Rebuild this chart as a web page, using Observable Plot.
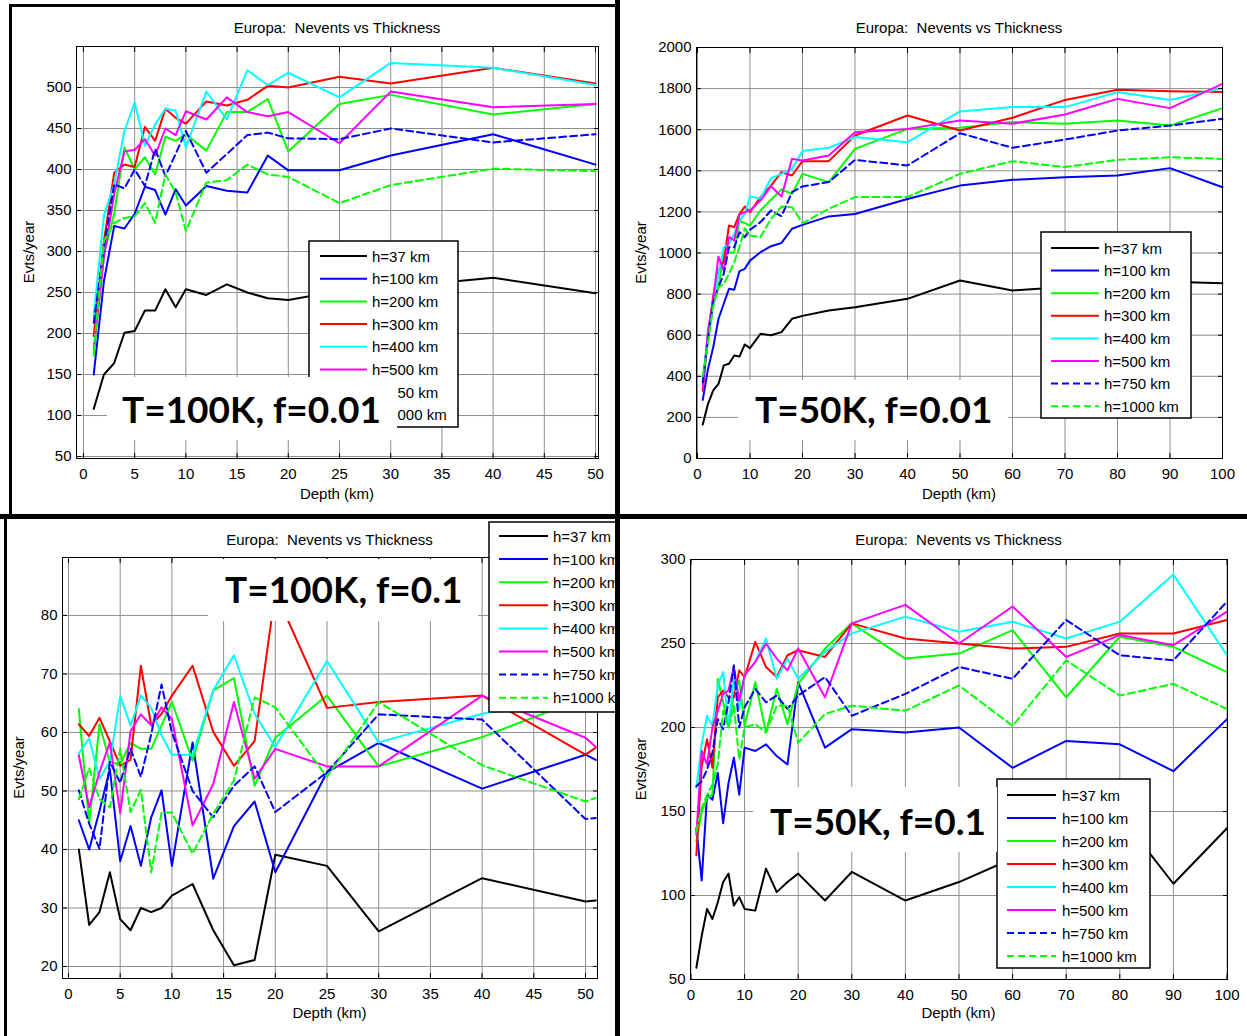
<!DOCTYPE html>
<html>
<head>
<meta charset="utf-8">
<script src="https://cdn.jsdelivr.net/npm/d3@7"></script>
<script src="https://cdn.jsdelivr.net/npm/@observablehq/plot@0.6"></script>
<style>
  body { margin: 0; background: #fff; }
  #page { position: relative; width: 1247px; height: 1036px; overflow: hidden; background: #fff; }
  .band { position: absolute; background: #000; }
</style>
</head>
<body>
<div id="page"></div>
<script>
// Europa: event rate vs ice thickness, four cases (temperature T, fraction f)
const seriesNames = ["h=37 km", "h=100 km", "h=200 km", "h=300 km", "h=400 km", "h=500 km", "h=750 km", "h=1000 km"];
const seriesColors = ["#000000", "#0000ff", "#00ff00", "#ff0000", "#00ffff", "#ff00ff", "#0000ff", "#00ff00"];
const seriesDash = [null, null, null, null, null, null, "7,4", "7,4"];

const depthTicks50 = [0, 5, 10, 15, 20, 25, 30, 35, 40, 45, 50];
const depthTicks100 = [0, 10, 20, 30, 40, 50, 60, 70, 80, 90, 100];
const evtsTicksA = [50, 100, 150, 200, 250, 300, 350, 400, 450, 500];
const evtsTicksB = [0, 200, 400, 600, 800, 1000, 1200, 1400, 1600, 1800, 2000];
const evtsTicksC = [20, 30, 40, 50, 60, 70, 80];
const evtsTicksD = [50, 100, 150, 200, 250, 300];

// T=100K, f=0.01
const depthA = [1, 2, 3, 4, 5, 6, 7, 8, 9, 10, 12, 14, 16, 18, 20, 25, 30, 40, 50];
const a37 = [108, 150, 164, 201, 203, 228, 228, 254, 232, 254, 247, 260, 250, 243, 241, 252, 256, 268, 249];
const a100 = [150, 264, 331, 328, 346, 379, 375, 345, 376, 356, 380, 374, 372, 417, 399, 399, 417, 443, 406];
const a200 = [173, 297, 346, 427, 400, 415, 394, 440, 435, 443, 423, 470, 470, 486, 422, 480, 491, 467, 480];
const a300 = [197, 313, 396, 406, 403, 452, 435, 474, 463, 456, 483, 478, 485, 502, 500, 513, 505, 524, 505];
const a400 = [222, 344, 382, 447, 482, 429, 455, 474, 472, 427, 495, 461, 521, 503, 518, 488, 530, 524, 503];
const a500 = [181, 293, 370, 422, 424, 437, 417, 450, 442, 471, 461, 488, 470, 465, 470, 432, 495, 476, 480];
const a750 = [213, 305, 382, 377, 400, 380, 425, 392, 419, 447, 396, 419, 442, 445, 438, 437, 450, 433, 443];
const a1000 = [177, 313, 335, 341, 343, 359, 335, 394, 372, 325, 384, 387, 406, 394, 391, 359, 381, 401, 398];

// T=50K, f=0.01
const depthB = [1, 2, 3, 4, 5, 6, 7, 8, 9, 10, 12, 14, 16, 18, 20, 25, 30, 40, 50, 60, 70, 80, 90, 100];
const b37 = [165, 266, 331, 363, 453, 461, 501, 496, 555, 537, 607, 600, 615, 680, 694, 720, 736, 777, 866, 818, 835, 850, 860, 853];
const b100 = [285, 436, 542, 680, 753, 826, 821, 912, 923, 963, 1004, 1033, 1049, 1118, 1137, 1178, 1190, 1263, 1328, 1356, 1369, 1377, 1413, 1320];
const b200 = [360, 590, 770, 834, 996, 1001, 1004, 1158, 1145, 1134, 1207, 1259, 1309, 1288, 1385, 1345, 1507, 1604, 1609, 1637, 1629, 1645, 1620, 1705];
const b300 = [330, 600, 790, 915, 960, 1134, 1126, 1190, 1226, 1199, 1272, 1328, 1393, 1377, 1447, 1447, 1572, 1669, 1596, 1658, 1745, 1794, 1787, 1783];
const b400 = [380, 610, 760, 899, 1028, 1045, 1093, 1158, 1190, 1275, 1264, 1364, 1385, 1410, 1496, 1512, 1564, 1539, 1689, 1710, 1710, 1783, 1745, 1802];
const b500 = [340, 620, 780, 983, 915, 1077, 1061, 1187, 1199, 1207, 1255, 1325, 1275, 1458, 1450, 1474, 1588, 1604, 1645, 1629, 1674, 1750, 1705, 1823];
const b750 = [370, 580, 760, 834, 899, 1028, 1028, 1101, 1077, 1113, 1150, 1207, 1179, 1296, 1324, 1345, 1453, 1426, 1583, 1512, 1552, 1596, 1620, 1653];
const b1000 = [400, 560, 740, 834, 850, 899, 955, 1030, 1120, 1085, 1077, 1166, 1226, 1223, 1145, 1215, 1272, 1272, 1385, 1447, 1418, 1453, 1466, 1458];

// T=100K, f=0.1
const depthC = [1, 2, 3, 4, 5, 6, 7, 8, 9, 10, 12, 14, 16, 18, 20, 25, 30, 40, 50, 51];
const c37 = [40, 27.1, 29.3, 36.1, 28.1, 26.2, 30, 29.3, 30, 32.1, 34.1, 26.2, 20.2, 21.1, 39.1, 37.2, 26, 35.1, 31.1, 31.3];
const c100 = [45, 40, 46.6, 53.7, 38, 44, 37.2, 45.5, 50.1, 37.2, 58.3, 35, 44, 48.2, 36.1, 53.2, 58.2, 50.4, 56.2, 55.3];
const c200 = [64, 44.4, 61.4, 54.9, 54.6, 58.2, 57.2, 57.2, 61.2, 65.2, 55.2, 67.2, 69.3, 50.9, 59.1, 66.3, 54.2, 59.2, 66, 66.5];
const c300 = [61.4, 59.4, 62.5, 58.5, 54.3, 55.3, 71.4, 61.2, 63.2, 66.3, 71.4, 60.1, 54.3, 58.5, 84, 64.2, 65.2, 66.3, 56.2, 57.4];
const c400 = [56.4, 59, 52.1, 55, 66.2, 61.2, 66.3, 64.2, 59.5, 56.2, 56.2, 67.2, 73.2, 63.2, 57.5, 72.2, 58.3, 63.2, 66, 66];
const c500 = [56.1, 47.2, 53.2, 58.3, 46.2, 60.2, 63.1, 61.2, 64.3, 62.3, 44.1, 51.2, 65.2, 52.1, 57.2, 54.2, 54.2, 66.3, 59.1, 57.5];
const c750 = [50.1, 44.4, 40.1, 55, 51.4, 57.2, 52.4, 59.7, 68.2, 60, 50, 45.5, 50.9, 54.2, 46.4, 53.2, 63.1, 62.2, 45.2, 45.4];
const c1000 = [48.6, 53.9, 48.6, 47.2, 57.2, 46.4, 50.2, 36.1, 46.3, 46.3, 39.3, 46.1, 51.8, 66, 64.3, 52.4, 65.2, 54.4, 48.2, 48.8];

// T=50K, f=0.1
const depthD = [1, 2, 3, 4, 5, 6, 7, 8, 9, 10, 12, 14, 16, 18, 20, 25, 30, 40, 50, 60, 70, 80, 90, 100];
const d37 = [57, 76, 92, 86, 96, 108, 113, 94, 99, 92, 91, 116, 102, 108, 113, 97, 114, 97, 108, 122, 135, 148, 107, 140];
const d100 = [140, 109, 160, 157, 173, 143, 167, 182, 160, 188, 186, 190, 183, 178, 227, 188, 199, 197, 200, 176, 192, 190, 174, 205];
const d200 = [132, 150, 158, 160, 229, 215, 200, 220, 228, 201, 227, 197, 223, 202, 226, 247, 262, 241, 244, 258, 218, 254, 248, 233];
const d300 = [124, 177, 193, 176, 218, 222, 218, 218, 234, 230, 251, 236, 230, 243, 246, 242, 262, 253, 250, 247, 248, 256, 256, 264];
const d400 = [164, 190, 207, 201, 225, 233, 201, 229, 211, 231, 239, 253, 229, 241, 229, 245, 256, 266, 257, 263, 253, 263, 291, 243];
const d500 = [136, 186, 178, 200, 210, 220, 222, 236, 216, 231, 239, 250, 241, 234, 247, 218, 262, 273, 250, 272, 242, 255, 249, 269];
const d750 = [165, 168, 175, 185, 205, 199, 215, 237, 200, 212, 223, 215, 219, 211, 219, 230, 207, 220, 236, 229, 264, 243, 240, 275];
const d1000 = [138, 152, 160, 166, 178, 210, 200, 213, 181, 200, 202, 197, 213, 213, 191, 208, 213, 210, 225, 201, 240, 219, 226, 211];

const panelTitle = "Europa:  Nevents vs Thickness";
const xLabel = "Depth (km)";
const yLabel = "Evts/year";
const FONT = '"Liberation Sans", Arial, Helvetica, sans-serif';
const NOTE_FONT = 'Lato, "Open Sans", "Liberation Sans", sans-serif';

// Layout of each panel on the page (page pixel coordinates)
const panels = [
  {
    rect: [12, 7, 603, 507], box: [76, 46, 598, 458],
    xDomain: [-0.68, 50.29], yDomain: [47.6, 550],
    xTicks: depthTicks50, yTicks: evtsTicksA,
    depth: depthA, series: [a37, a100, a200, a300, a400, a500, a750, a1000],
    titleY: 33, xLabelY: 499, yLabelX: 34,
    legend: {box: [309, 241, 149, 186], row0: 256, step: 22.7, x1: 320, x2: 367, tx: 372},
    note: {box: [107, 377, 290, 63], x: 122, y: 423, text: "T=100K, f=0.01"}
  },
  {
    rect: [620, 0, 627, 514], box: [696, 47, 1222, 458],
    xDomain: [-0.19, 100], yDomain: [0, 2000],
    xTicks: depthTicks100, yTicks: evtsTicksB,
    depth: depthB, series: [b37, b100, b200, b300, b400, b500, b750, b1000],
    titleY: 33, xLabelY: 499, yLabelX: 646,
    legend: {box: [1041, 232, 150, 186], row0: 248, step: 22.6, x1: 1051, x2: 1099, tx: 1104},
    note: {box: [738, 380, 270, 60], x: 755, y: 423, text: "T=50K, f=0.01"}
  },
  {
    rect: [7, 519, 608, 517], box: [62, 557, 597, 978],
    xDomain: [-0.58, 51.16], yDomain: [17.95, 89.9],
    xTicks: depthTicks50, yTicks: evtsTicksC,
    depth: depthC, series: [c37, c100, c200, c300, c400, c500, c750, c1000],
    titleY: 545, xLabelY: 1018, yLabelX: 24,
    legend: {box: [489, 522, 160, 190], row0: 536, step: 23.1, x1: 499, x2: 548, tx: 553},
    note: {box: [208, 559, 270, 62], x: 225, y: 603, text: "T=100K, f=0.1"}
  },
  {
    rect: [620, 519, 627, 517], box: [690, 559, 1227, 979],
    xDomain: [-0.09, 100.09], yDomain: [50, 300],
    xTicks: depthTicks100, yTicks: evtsTicksD,
    depth: depthD, series: [d37, d100, d200, d300, d400, d500, d750, d1000],
    titleY: 545, xLabelY: 1018, yLabelX: 646,
    legend: {box: [997, 779, 153, 189], row0: 795, step: 23, x1: 1007, x2: 1056, tx: 1062},
    note: {box: [753, 787, 244, 65], x: 770, y: 835, text: "T=50K, f=0.1"}
  }
];

const page = document.getElementById("page");

function drawPanel(p) {
  const [px, py, pw, ph] = p.rect;
  const [bl, bt, br, bb] = p.box;
  const holder = document.createElement("div");
  holder.style.cssText = `position:absolute;left:${px}px;top:${py}px;width:${pw}px;height:${ph}px;overflow:hidden;`;
  page.appendChild(holder);

  const fmt = (d) => String(d);
  const lines = p.series.map((vals, i) =>
    Plot.line(p.depth.map((d, j) => ({depth: d, evts: vals[j]})), {
      x: "depth", y: "evts",
      stroke: seriesColors[i], strokeWidth: 2,
      strokeDasharray: seriesDash[i] || undefined
    })
  );

  const chart = Plot.plot({
    width: pw, height: ph,
    marginLeft: bl - px, marginRight: px + pw - br,
    marginTop: bt - py, marginBottom: py + ph - bb,
    x: {domain: p.xDomain, label: null},
    y: {domain: p.yDomain, label: null},
    style: {fontFamily: FONT, fontSize: "15px", color: "#000", background: "transparent"},
    marks: [
      Plot.gridX(p.xTicks, {stroke: "#8e8e8e", strokeOpacity: 1, strokeWidth: 1}),
      Plot.gridY(p.yTicks, {stroke: "#8e8e8e", strokeOpacity: 1, strokeWidth: 1}),
      ...lines,
      Plot.frame({stroke: "#000", strokeWidth: 1}),
      Plot.axisX(p.xTicks, {anchor: "bottom", tickSize: -5, tickPadding: 15, tickFormat: fmt, label: null}),
      Plot.axisX(p.xTicks, {anchor: "top", tickSize: -5, tickFormat: () => "", label: null}),
      Plot.axisY(p.yTicks, {anchor: "left", tickSize: -5, tickPadding: 10, tickFormat: fmt, label: null}),
      Plot.axisY(p.yTicks, {anchor: "right", tickSize: -5, tickFormat: () => "", label: null})
    ]
  });
  chart.style.position = "absolute";
  chart.style.left = "0px";
  chart.style.top = "0px";
  holder.appendChild(chart);

  // Titles, axis names, legend and case annotation
  const svg = d3.select(holder).append("svg")
    .attr("width", pw).attr("height", ph)
    .style("position", "absolute").style("left", "0px").style("top", "0px")
    .style("font-family", FONT).style("font-size", "15px");
  const g = svg.append("g").attr("transform", `translate(${-px},${-py})`);

  g.append("text")
    .attr("x", (bl + br) / 2).attr("y", p.titleY)
    .attr("text-anchor", "middle").style("white-space", "pre")
    .text(panelTitle);
  g.append("text")
    .attr("x", (bl + br) / 2).attr("y", p.xLabelY)
    .attr("text-anchor", "middle")
    .text(xLabel);
  g.append("text")
    .attr("transform", `translate(${p.yLabelX},${(bt + bb) / 2}) rotate(-90)`)
    .attr("text-anchor", "middle")
    .text(yLabel);

  const L = p.legend;
  g.append("rect")
    .attr("x", L.box[0]).attr("y", L.box[1]).attr("width", L.box[2]).attr("height", L.box[3])
    .attr("fill", "#fff").attr("stroke", "#000").attr("stroke-width", 1.5);
  seriesNames.forEach((name, i) => {
    const y = L.row0 + i * L.step;
    g.append("line")
      .attr("x1", L.x1).attr("x2", L.x2).attr("y1", y).attr("y2", y)
      .attr("stroke", seriesColors[i]).attr("stroke-width", 2)
      .attr("stroke-dasharray", seriesDash[i]);
    g.append("text").attr("x", L.tx).attr("y", y + 5.5).text(name);
  });

  const N = p.note;
  g.append("rect")
    .attr("x", N.box[0]).attr("y", N.box[1]).attr("width", N.box[2]).attr("height", N.box[3])
    .attr("fill", "#fff");
  g.append("text")
    .attr("x", N.x).attr("y", N.y)
    .style("font-family", NOTE_FONT).style("font-weight", 700).style("font-size", "37px")
    .text(N.text);
}

panels.forEach(drawPanel);

// Heavy frame lines separating the four panels
[
  [9, 4, 3, 512],      // left edge, upper-left panel
  [9, 4, 609, 3],      // top edge, upper-left panel
  [4, 517, 3, 519],    // left edge, lower-left panel
  [0, 514, 1247, 5],   // horizontal divider
  [615, 0, 5, 1036]    // vertical divider
].forEach(([x, y, w, h]) => {
  const b = document.createElement("div");
  b.className = "band";
  b.style.cssText += `left:${x}px;top:${y}px;width:${w}px;height:${h}px;`;
  page.appendChild(b);
});
</script>
</body>
</html>
